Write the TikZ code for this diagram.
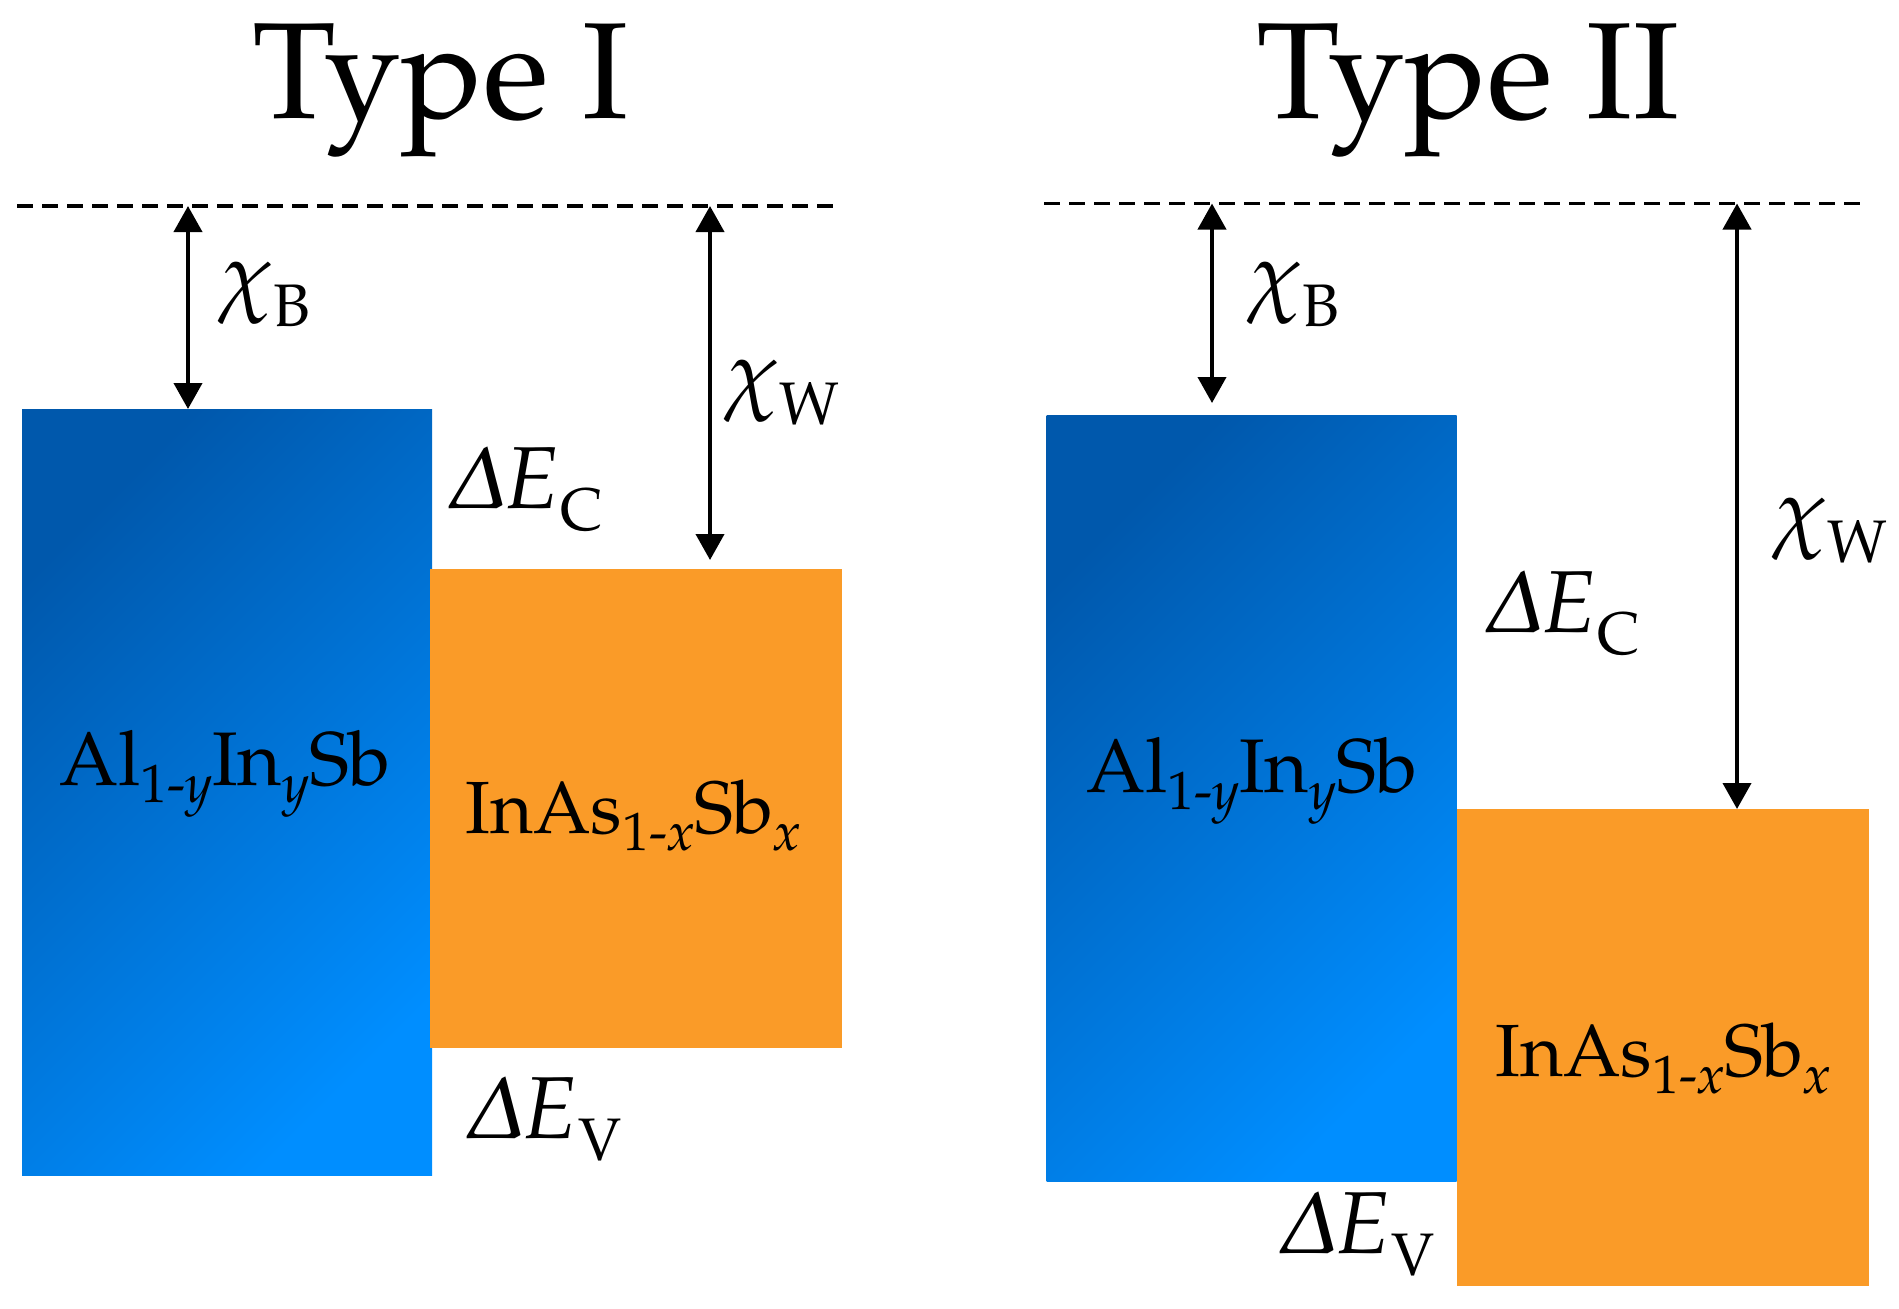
\documentclass[tikz,border=0pt]{standalone}
\usepackage[T1]{fontenc}
\usepackage{amsmath}
\usepackage{mathpazo}
\usetikzlibrary{arrows.meta}
\definecolor{bluedark}{RGB}{0,88,172}
\definecolor{bluelight}{RGB}{0,142,255}
\definecolor{ocol}{RGB}{250,155,40}
\newcommand{\lsub}[1]{\raisebox{-11pt}{\fontsize{30}{32}\selectfont #1}}
\newcommand{\msub}[1]{\raisebox{-8.5pt}{\fontsize{27}{30}\selectfont #1}}
\tikzset{
  bluebox/.style={inner sep=0pt, outer sep=0pt, top color=bluedark, bottom color=bluelight, shading angle=45, minimum width=205pt, minimum height=383pt},
  orangebox/.style={fill=ocol, inner sep=0pt, outer sep=0pt, minimum width=206pt},
  vacuum/.style={dash pattern=on 8pt off 4.5pt, line width=1.6pt},
  dim/.style={{Triangle[width=14pt,length=13pt]}-{Triangle[width=14pt,length=13pt]}, line width=2pt},
  title/.style={font=\fontsize{68.5}{80}\selectfont, anchor=base, inner sep=0pt},
  mat/.style={font=\fontsize{38}{44}\selectfont, anchor=base, inner sep=0pt},
  lab/.style={font=\fontsize{44}{50}\selectfont, anchor=base west, inner sep=0pt},
}
\begin{document}
\begin{tikzpicture}[x=0.5pt,y=-0.5pt]
\useasboundingbox (0,0) rectangle (1899,1308);
% ---------- Type I ----------
\node[title] (t1) at (441,118) {Type I};
\node[bluebox] (b1) at (227,792) {};
\node[orangebox, minimum height=239.5pt] (o1) at (636,808.5) {};
\coordinate (d1l) at (17,206);
\coordinate (d1r) at (836,206);
\draw[vacuum] (d1l) -- (d1r);
\coordinate (a1) at (188,206);
\coordinate (a2) at (710,206);
\draw[dim] (a1) -- (a1 |- b1.north);
\draw[dim] (a2) -- ([yshift=4.5pt]a2 |- o1.north);
\node[lab] (xb1) at (218,304) {$\chi$\lsub{B}};
\node[lab] (xw1) at (724,402) {$\chi$\lsub{W}};
\node[lab] (ec1) at (447,508) {$\varDelta E$\lsub{C}};
\node[lab] (ev1) at (465,1138) {$\varDelta E$\lsub{V}};
\node[mat] (m1) at (225,785) {Al\msub{1-\textit{y}}In\msub{\textit{y}}Sb};
\node[mat, font=\fontsize{37}{44}\selectfont] (m2) at (633,833) {InAs\msub{1-\textit{x}}Sb\msub{\textit{x}}};
% ---------- Type II ----------
\node[title] (t2) at (1468,118) {Type II};
\node[bluebox] (b2) at (1251.5,798) {};
\node[orangebox, minimum height=238.5pt] (o2) at (1663,1047.5) {};
\coordinate (d2l) at (1044,203.5);
\coordinate (d2r) at (1865,203.5);
\draw[vacuum] (d2l) -- (d2r);
\coordinate (c1) at (1212,203.5);
\coordinate (c2) at (1737,203.5);
\draw[dim] (c1) -- ([yshift=6pt]c1 |- b2.north);
\draw[dim] (c2) -- (c2 |- o2.north);
\node[lab] (xb2) at (1247,304) {$\chi$\lsub{B}};
\node[lab] (xw2) at (1772,540) {$\chi$\lsub{W}};
\node[lab] (ec2) at (1484,632) {$\varDelta E$\lsub{C}};
\node[lab] (ev2) at (1278,1253) {$\varDelta E$\lsub{V}};
\node[mat] (m3) at (1252,792) {Al\msub{1-\textit{y}}In\msub{\textit{y}}Sb};
\node[mat, font=\fontsize{37}{44}\selectfont] (m4) at (1663,1076) {InAs\msub{1-\textit{x}}Sb\msub{\textit{x}}};
\end{tikzpicture}
\end{document}
